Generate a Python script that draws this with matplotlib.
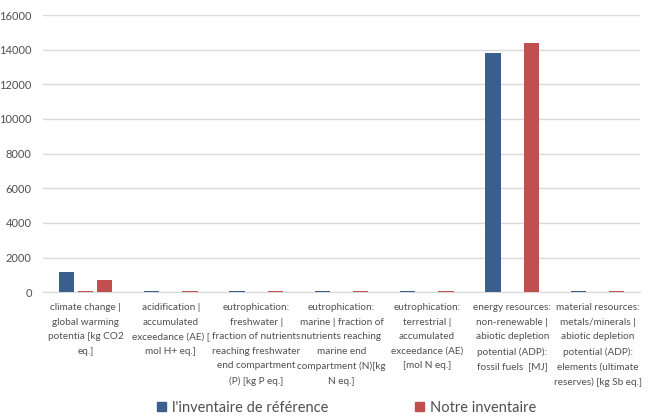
import numpy as np
import matplotlib.pyplot as plt
from matplotlib.patches import Patch

plt.rcParams['font.family'] = ['Lato', 'DejaVu Sans']

categories = [
    "climate change |\nglobal warming\npotentia [kg CO2\neq.]",
    "acidification |\naccumulated\nexceedance (AE) [\nmol H+ eq.]",
    "eutrophication:\nfreshwater |\nfraction of nutrients\nreaching freshwater\nend compartment\n(P) [kg P eq.]",
    "eutrophication:\nmarine | fraction of\nnutrients reaching\nmarine end\ncompartment (N)[kg\nN eq.]",
    "eutrophication:\nterrestrial |\naccumulated\nexceedance (AE)\n[mol N eq.]",
    "energy resources:\nnon-renewable |\nabiotic depletion\npotential (ADP):\nfossil fuels  [MJ]",
    "material resources:\nmetals/minerals |\nabiotic depletion\npotential (ADP):\nelements (ultimate\nreserves) [kg Sb eq.]",
]
reference = [1170, 40, 40, 40, 40, 13800, 40]
extra = [60, 0, 0, 0, 0, 0, 0]
ours = [680, 40, 40, 40, 40, 14380, 40]

blue = '#3A5F8F'
red = '#C0504D'
grey = '#505050'

fig = plt.figure(figsize=(6.48, 4.18), dpi=100)
ax = fig.add_axes([0.066, 0.301, 0.922, 0.663])

x = np.arange(len(categories))
w = 0.18
ax.bar(x - 0.225, reference, w, color=blue, zorder=3)
ax.bar(x, extra, w, color=red, zorder=3)
ax.bar(x + 0.225, ours, w, color=red, zorder=3)

ax.set_xlim(-0.5, len(categories) - 0.5)
ax.set_ylim(0, 16000)
ax.set_yticks(range(0, 16001, 2000))
ax.yaxis.grid(True, color='#D9D9D9', linewidth=1)
ax.set_axisbelow(True)
for s in ['top', 'right', 'left']:
    ax.spines[s].set_visible(False)
ax.spines['bottom'].set_color('#D9D9D9')
ax.tick_params(axis='both', length=0, colors=grey)
ax.tick_params(axis='y', labelsize=8, pad=8)
ax.set_xticks(x)
ax.set_xticklabels(categories, fontsize=7.2, linespacing=1.78, color=grey)
ax.tick_params(axis='x', pad=8)

handles = [Patch(color=blue), Patch(color=red)]
fig.legend(handles, ["l'inventaire de référence", 'Notre inventaire'],
           loc='center', bbox_to_anchor=(0.535, 0.024), ncol=2, frameon=False,
           fontsize=10.5, labelcolor=grey,
           handlelength=0.6, handleheight=0.6,
           handletextpad=0.4, columnspacing=6.0)

fig.savefig('out.png', dpi=100)
